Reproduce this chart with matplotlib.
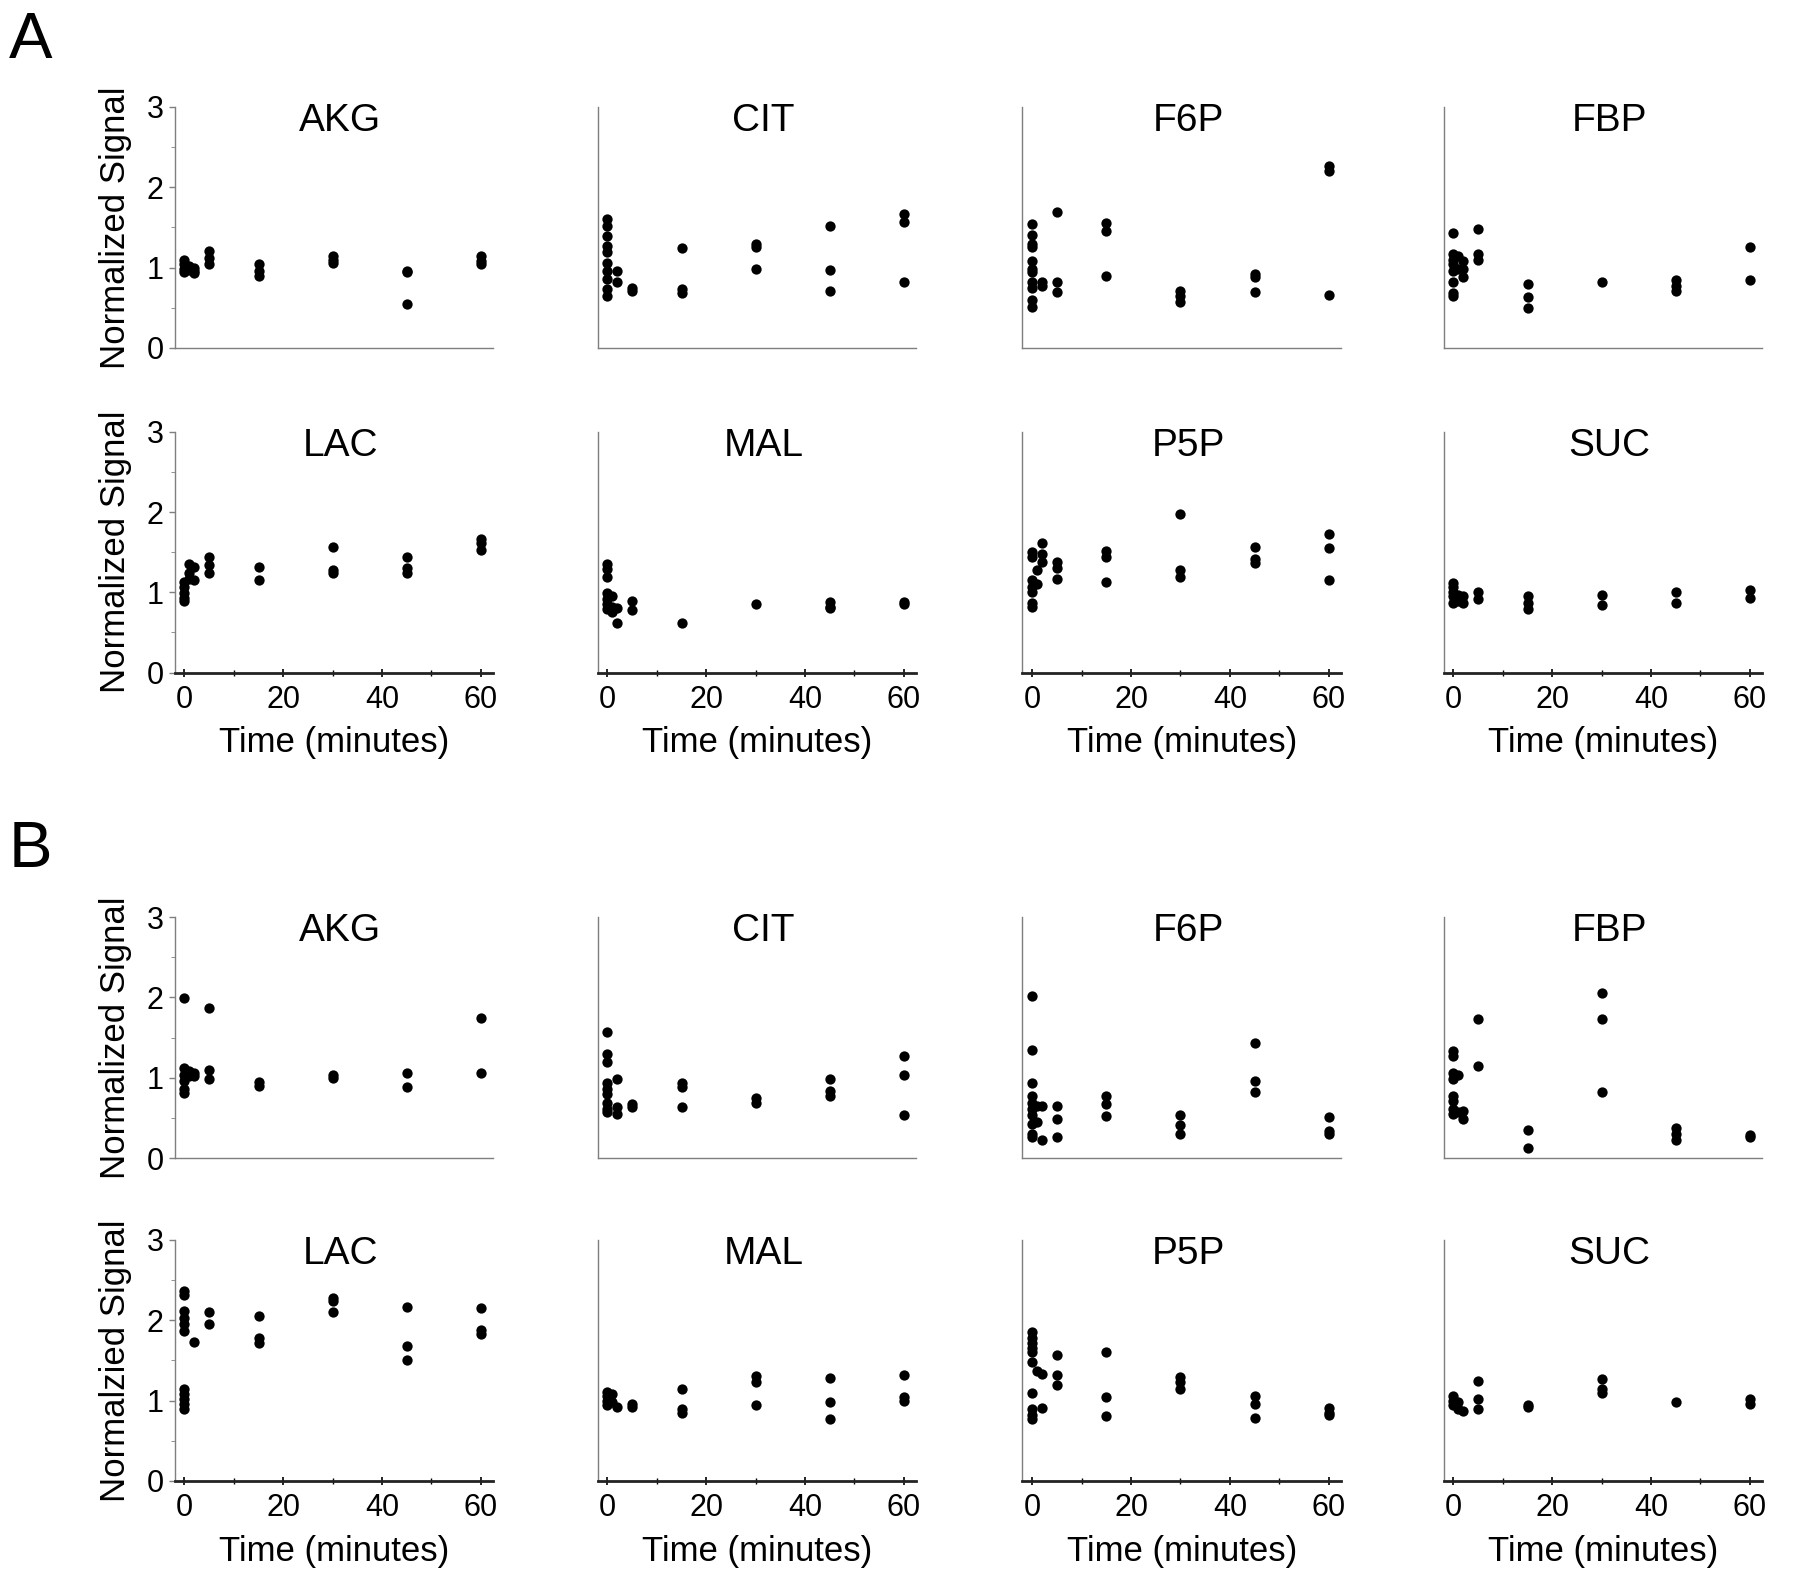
import matplotlib
matplotlib.use("Agg")
import matplotlib.pyplot as plt
from matplotlib.ticker import MultipleLocator

plt.rcParams['font.family'] = ['Liberation Sans', 'DejaVu Sans']

# time (min) -> normalized signal values
# ---- panel A ----
akg_a = {0: [1.05, 0.98, 0.95, 1.1], 1: [1.02, 0.97], 2: [1.0, 0.93, 0.96],
         5: [1.2, 1.12, 1.05], 15: [1.04, 0.96, 0.90], 30: [1.14, 1.10, 1.06],
         45: [0.96, 0.94, 0.55], 60: [1.14, 1.08, 1.04]}
cit_a = {0: [1.6, 1.52, 1.39, 1.27, 1.19, 1.06, 0.96, 0.86, 0.73, 0.65],
         2: [0.96, 0.82], 5: [0.75, 0.71], 15: [1.24, 0.73, 0.68],
         30: [1.29, 1.25, 0.98], 45: [1.52, 0.97, 0.71], 60: [1.67, 1.57, 0.82]}
f6p_a = {0: [1.54, 1.40, 1.29, 1.25, 1.08, 0.98, 0.94, 0.82, 0.75, 0.59, 0.51],
         2: [0.82, 0.77], 5: [1.69, 0.82, 0.69], 15: [1.56, 1.45, 0.89],
         30: [0.71, 0.65, 0.57], 45: [0.92, 0.88, 0.70], 60: [2.26, 2.20, 0.66]}
fbp_a = {0: [1.43, 1.17, 1.10, 1.04, 0.96, 0.82, 0.68, 0.65], 1: [1.14, 0.98],
         2: [1.08, 0.98, 0.88], 5: [1.48, 1.17, 1.10], 15: [0.80, 0.63, 0.49],
         30: [0.82], 45: [0.85, 0.77, 0.71], 60: [1.26, 0.84]}
lac_a = {0: [1.13, 1.07, 0.99, 0.93, 0.89], 1: [1.35, 1.24, 1.17],
         2: [1.32, 1.15], 5: [1.44, 1.34, 1.24], 15: [1.31, 1.15],
         30: [1.57, 1.28, 1.24], 45: [1.44, 1.30, 1.24], 60: [1.67, 1.61, 1.53]}
mal_a = {0: [1.35, 1.29, 1.19, 0.99, 0.92, 0.86, 0.79], 1: [0.95, 0.82, 0.76],
         2: [0.80, 0.62], 5: [0.89, 0.78], 15: [0.62], 30: [0.86],
         45: [0.88, 0.82, 0.80], 60: [0.88, 0.86]}
p5p_a = {0: [1.50, 1.44, 1.15, 1.07, 1.01, 0.87, 0.82], 1: [1.28, 1.11],
         2: [1.61, 1.48, 1.38], 5: [1.38, 1.30, 1.17], 15: [1.52, 1.44, 1.13],
         30: [1.97, 1.28, 1.19], 45: [1.56, 1.41, 1.37], 60: [1.73, 1.55, 1.15]}
suc_a = {0: [1.12, 1.07, 1.01, 0.95, 0.87], 1: [0.97, 0.89], 2: [0.95, 0.87],
         5: [1.01, 0.92], 15: [0.95, 0.87, 0.79], 30: [0.97, 0.84],
         45: [1.01, 0.87], 60: [1.03, 0.93]}
# ---- panel B ----
akg_b = {0: [1.99, 1.12, 1.04, 0.96, 0.86, 0.81], 1: [1.08, 1.02],
         2: [1.06, 1.02], 5: [1.87, 1.10, 0.98], 15: [0.95, 0.90],
         30: [1.04, 1.00], 45: [1.06, 0.88], 60: [1.74, 1.06]}
cit_b = {0: [1.57, 1.29, 1.19, 0.94, 0.86, 0.80, 0.69, 0.61, 0.57],
         2: [0.98, 0.63, 0.55], 5: [0.67, 0.63], 15: [0.94, 0.88, 0.64],
         30: [0.75, 0.69], 45: [0.98, 0.84, 0.77], 60: [1.27, 1.04, 0.54]}
f6p_b = {0: [2.02, 1.35, 0.93, 0.77, 0.69, 0.61, 0.53, 0.42, 0.30, 0.26],
         1: [0.65, 0.45], 2: [0.65, 0.23], 5: [0.65, 0.49, 0.26],
         15: [0.77, 0.67, 0.52], 30: [0.54, 0.41, 0.30], 45: [1.43, 0.96, 0.82],
         60: [0.51, 0.34, 0.30]}
fbp_b = {0: [1.33, 1.27, 1.06, 0.98, 0.77, 0.71, 0.61, 0.55], 1: [1.04, 0.57],
         2: [0.59, 0.49], 5: [1.73, 1.15], 15: [0.35, 0.12],
         30: [2.06, 1.73, 0.82], 45: [0.38, 0.30, 0.22], 60: [0.29, 0.26]}
lac_b = {0: [2.36, 2.31, 2.11, 2.03, 1.95, 1.87, 1.15, 1.08, 1.02, 0.96, 0.90],
         2: [1.73], 5: [2.10, 1.95], 15: [2.05, 1.78, 1.72],
         30: [2.28, 2.24, 2.10], 45: [2.16, 1.68, 1.50], 60: [2.15, 1.88, 1.83]}
mal_b = {0: [1.11, 1.06, 1.00, 0.94], 1: [1.08, 0.98], 2: [0.92],
         5: [0.96, 0.92], 15: [1.15, 0.90, 0.84], 30: [1.31, 1.23, 0.94],
         45: [1.28, 0.98, 0.77], 60: [1.32, 1.04, 0.99]}
p5p_b = {0: [1.85, 1.78, 1.72, 1.66, 1.60, 1.48, 1.10, 0.90, 0.82, 0.77],
         1: [1.37], 2: [1.33, 0.91], 5: [1.57, 1.32, 1.19], 15: [1.60, 1.05, 0.81],
         30: [1.29, 1.23, 1.15], 45: [1.06, 0.96, 0.78], 60: [0.91, 0.85, 0.82]}
suc_b = {0: [1.06, 1.00, 0.94], 1: [0.98, 0.90], 2: [0.87], 5: [1.24, 1.02, 0.90],
         15: [0.94, 0.92], 30: [1.27, 1.15, 1.09], 45: [0.98], 60: [1.02, 0.96]}

names = ["AKG", "CIT", "F6P", "FBP", "LAC", "MAL", "P5P", "SUC"]
panel_a = [akg_a, cit_a, f6p_a, fbp_a, lac_a, mal_a, p5p_a, suc_a]
panel_b = [akg_b, cit_b, f6p_b, fbp_b, lac_b, mal_b, p5p_b, suc_b]
ylabels_a = ["Normalized Signal", "Normalized Signal"]
ylabels_b = ["Normalized Signal", "Normalzied Signal"]

fig = plt.figure(figsize=(18, 15.79), dpi=100)

lefts = [0.097, 0.332, 0.568, 0.802]
width = 0.177
height = 0.1526
bottoms = [0.7797, 0.574, 0.2666, 0.0621]


def make_panel(row_bottom, col, name, data, ylabel, bottom_row):
    ax = fig.add_axes([lefts[col], row_bottom, width, height])
    for t, vals in data.items():
        ax.scatter([t] * len(vals), vals, s=55, color="black", linewidths=0, zorder=3)
    ax.set_xlim(-2, 62.5)
    ax.set_ylim(0, 3)
    for s in ["top", "right"]:
        ax.spines[s].set_visible(False)
    ax.spines["left"].set_color("#7f7f7f")
    ax.spines["left"].set_linewidth(1.0)
    if bottom_row:
        ax.spines["bottom"].set_color("#222222")
        ax.spines["bottom"].set_linewidth(2.0)
        ax.set_xticks([0, 20, 40, 60])
        ax.xaxis.set_minor_locator(MultipleLocator(10))
        ax.tick_params(axis="x", which="major", direction="inout", length=6,
                       width=1.2, labelsize=22, pad=6)
        ax.tick_params(axis="x", which="minor", direction="inout", length=4, width=1)
        ax.set_xlabel("Time (minutes)", fontsize=25, labelpad=8)
    else:
        ax.spines["bottom"].set_color("#7f7f7f")
        ax.spines["bottom"].set_linewidth(1.0)
        ax.set_xticks([])
    if col == 0:
        ax.set_yticks([0, 1, 2, 3])
        ax.yaxis.set_minor_locator(MultipleLocator(0.5))
        ax.tick_params(axis="y", which="major", direction="out", length=4,
                       width=1, labelsize=22, pad=4, color="#7f7f7f")
        ax.tick_params(axis="y", which="minor", direction="out", length=3,
                       color="#7f7f7f")
        ax.set_ylabel(ylabel, fontsize=25, labelpad=10)
    else:
        ax.set_yticks([])
    ax.text(0.52, 0.9, name, transform=ax.transAxes, ha="center", va="baseline",
            fontsize=28)
    return ax


for i, (name, data) in enumerate(zip(names, panel_a)):
    r, c = divmod(i, 4)
    make_panel(bottoms[r], c, name, data, ylabels_a[r], r == 1)

for i, (name, data) in enumerate(zip(names, panel_b)):
    r, c = divmod(i, 4)
    make_panel(bottoms[2 + r], c, name, data, ylabels_b[r], r == 1)

fig.text(0.017, 0.974, "A", fontsize=47, va="center", ha="center")
fig.text(0.017, 0.462, "B", fontsize=47, va="center", ha="center")

fig.savefig("out.png", dpi=100)
